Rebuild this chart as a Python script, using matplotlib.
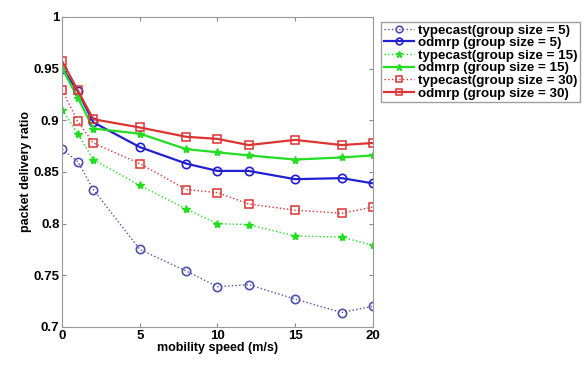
import numpy as np
import matplotlib.pyplot as plt

plt.rc('font', family='Liberation Sans', weight='bold', size=9.5)
plt.rc('axes', labelweight='bold')

speed = [0, 1, 2, 5, 8, 10, 12, 15, 18, 20]

tc_5 = [0.872, 0.860, 0.833, 0.775, 0.754, 0.739, 0.741, 0.727, 0.714, 0.720]
od_5 = [0.950, 0.928, 0.898, 0.874, 0.858, 0.851, 0.851, 0.843, 0.844, 0.839]
tc_15 = [0.910, 0.887, 0.862, 0.837, 0.814, 0.800, 0.799, 0.788, 0.787, 0.779]
od_15 = [0.950, 0.922, 0.892, 0.887, 0.872, 0.869, 0.866, 0.862, 0.864, 0.866]
tc_30 = [0.929, 0.899, 0.878, 0.858, 0.833, 0.830, 0.819, 0.813, 0.810, 0.816]
od_30 = [0.957, 0.929, 0.901, 0.893, 0.884, 0.882, 0.876, 0.881, 0.876, 0.878]

labels = ['typecast(group size = 5)', 'odmrp (group size = 5)',
          'typecast(group size = 15)', 'odmrp (group size = 15)',
          'typecast(group size = 30)', 'odmrp (group size = 30)']

fig = plt.figure(figsize=(5.87, 3.67), dpi=100)
ax = fig.add_axes([0.106, 0.109, 0.529, 0.845])

blue, green, red = '#2020d0', '#22dd22', '#dd3333'
ax.plot(speed, tc_5, ':', color='#5050b0', lw=1, marker='o', mfc='none', ms=6, mew=1.2, label=labels[0])
ax.plot(speed, od_5, '-', color=blue, lw=1.6, marker='o', mfc='none', ms=6, mew=1.2, label=labels[1])
ax.plot(speed, tc_15, ':', color=green, lw=1, marker='*', ms=6, label=labels[2])
ax.plot(speed, od_15, '-', color=green, lw=1.6, marker='*', ms=6, label=labels[3])
ax.plot(speed, tc_30, ':', color=red, lw=1, marker='s', mfc='none', ms=6, mew=1.1, label=labels[4])
ax.plot(speed, od_30, '-', color=red, lw=1.6, marker='s', mfc='none', ms=6, mew=1.1, label=labels[5])

ax.set_xlim(0, 20)
ax.set_ylim(0.7, 1)
ax.set_xticks([0, 5, 10, 15, 20])
ax.set_yticks([0.7, 0.75, 0.8, 0.85, 0.9, 0.95, 1])
ax.set_yticklabels(['0.7', '0.75', '0.8', '0.85', '0.9', '0.95', '1'])
ax.tick_params(direction='in', top=True, right=True, length=3, color='#888888', pad=2)
for s in ax.spines.values():
    s.set_color('#999999')
ax.set_xlabel('mobility speed (m/s)', labelpad=0, fontsize=9)
ax.set_ylabel('packet delivery ratio', labelpad=1, fontsize=9)

leg = ax.legend(loc='upper left', bbox_to_anchor=(1.027, 0.985), fancybox=False,
                edgecolor='#888888', handlelength=2.3, borderpad=0.2, fontsize=9.6,
                labelspacing=0.02, handletextpad=0.25, borderaxespad=0, markerscale=0.8)

fig.savefig('out.png', dpi=100)
